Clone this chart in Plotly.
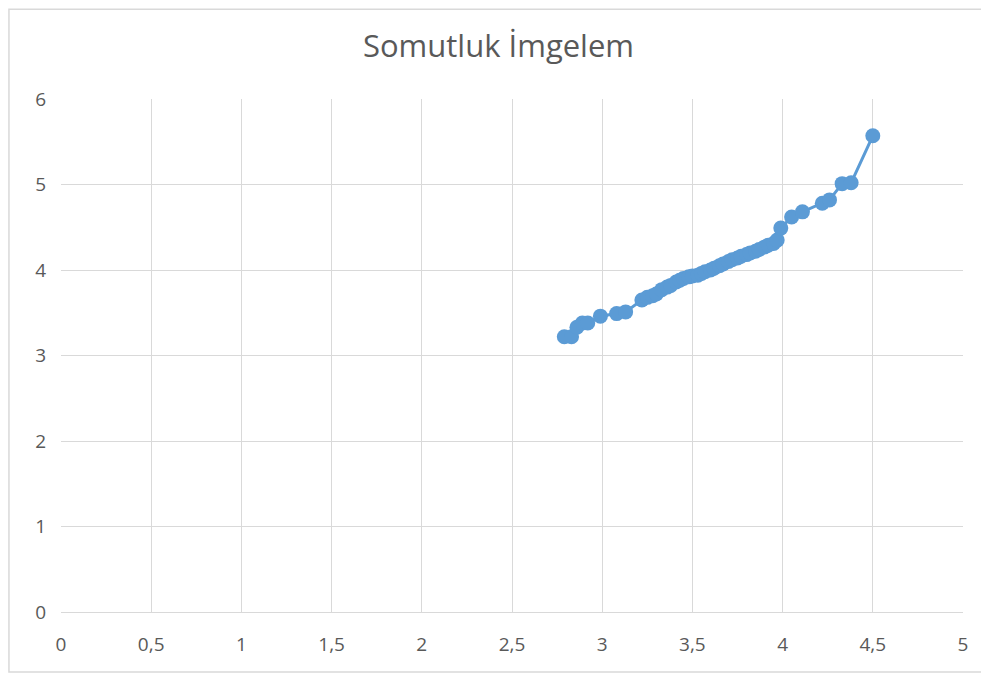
import plotly.graph_objects as go

# Somutluk İmgelem verileri (grafikten okunan yaklaşık değerler)
x_vals = [2.79, 2.83, 2.86, 2.89, 2.92, 2.99, 3.08, 3.13,
          3.22, 3.25, 3.28, 3.30, 3.33, 3.36, 3.38, 3.41, 3.43, 3.45,
          3.48, 3.50, 3.53, 3.55, 3.57, 3.60, 3.62, 3.65, 3.67, 3.70,
          3.72, 3.75, 3.77, 3.80, 3.82, 3.85, 3.87, 3.90, 3.92, 3.95,
          3.97, 3.99, 4.05, 4.11, 4.22, 4.26, 4.33, 4.38, 4.50]
y_vals = [3.22, 3.22, 3.33, 3.38, 3.38, 3.46, 3.49, 3.51,
          3.65, 3.68, 3.70, 3.72, 3.77, 3.80, 3.82, 3.86, 3.88, 3.90,
          3.92, 3.93, 3.94, 3.96, 3.98, 4.00, 4.02, 4.05, 4.07, 4.10,
          4.12, 4.14, 4.16, 4.18, 4.20, 4.22, 4.24, 4.27, 4.29, 4.31,
          4.35, 4.49, 4.62, 4.68, 4.78, 4.82, 5.01, 5.02, 5.57]

x_ticks = [0, 0.5, 1, 1.5, 2, 2.5, 3, 3.5, 4, 4.5, 5]
x_labels = ["0", "0,5", "1", "1,5", "2", "2,5", "3", "3,5", "4", "4,5", "5"]
y_ticks = [0, 1, 2, 3, 4, 5, 6]

blue = "#5b9bd5"
gray_text = "#595959"
grid = "#d9d9d9"
tick_font = dict(family="Open Sans, sans-serif", size=19, color=gray_text)

fig = go.Figure()
fig.add_trace(go.Scatter(
    x=x_vals, y=y_vals, mode="lines+markers",
    line=dict(color=blue, width=3),
    marker=dict(color=blue, size=15),
    showlegend=False,
))

# sayfa gövdesi 8px kaydırdığı için boyutlar buna göre
fig.update_layout(
    width=981, height=669,
    paper_bgcolor="white", plot_bgcolor="white",
    margin=dict(l=53, r=26, t=91, b=65),
    title=dict(text="Somutluk İmgelem", x=0.5, xanchor="center", y=0.943, yanchor="middle",
               font=dict(family="Open Sans, sans-serif", size=31, color=gray_text)),
    xaxis=dict(range=[0, 5], tickvals=x_ticks, ticktext=x_labels, tickfont=tick_font,
               showgrid=True, gridcolor=grid, gridwidth=1,
               zeroline=False, showline=True, linecolor=grid, mirror=False,
               ticks="", ticklabelstandoff=15),
    yaxis=dict(range=[0, 6], tickvals=y_ticks, tickfont=tick_font,
               showgrid=True, gridcolor=grid, gridwidth=1,
               zeroline=False, showline=False, ticks="", ticklabelstandoff=14),
    shapes=[dict(type="rect", xref="paper", yref="paper",
                 x0=-0.0577, x1=1.0244, y0=-0.117, y1=1.175,
                 line=dict(color="#d9d9d9", width=1.5), fillcolor="rgba(0,0,0,0)")],
)

fig.write_html("out.html")
